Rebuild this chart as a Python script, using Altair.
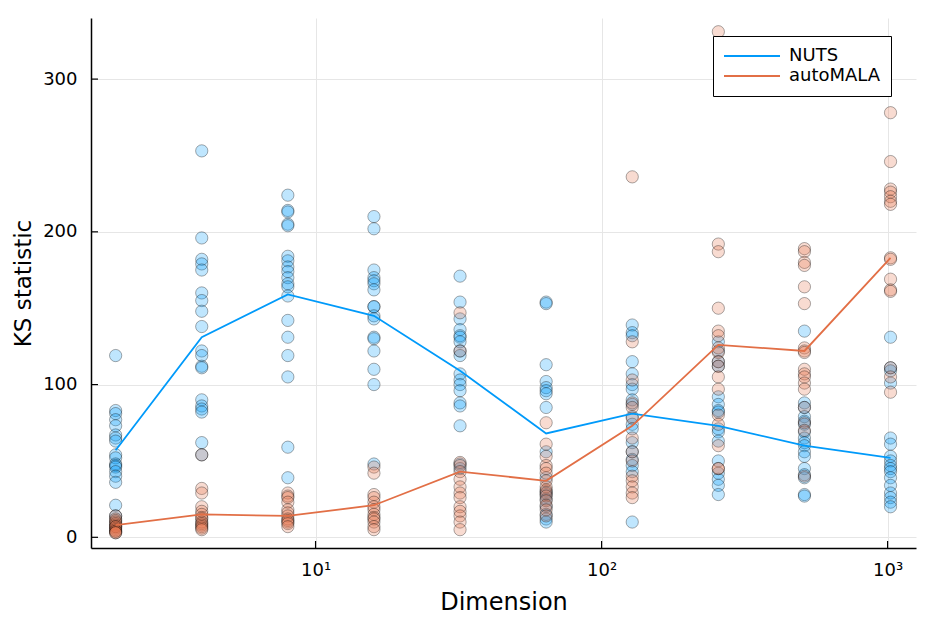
import altair as alt
import pandas as pd

# ---- data ----
dims = [2, 4, 8, 16, 32, 64, 128, 256, 512, 1024]
methods = ["NUTS", "autoMALA"]
colors = ["#009AFA", "#E26F46"]

nuts_points = [
    [119, 83, 81, 77, 73, 67, 65, 63, 54, 52, 48, 47, 46, 43, 40, 36, 21, 14],
    [253, 196, 182, 179, 175, 160, 155, 148, 138, 122, 119, 112, 111, 90, 86, 84, 82, 62, 54],
    [224, 214, 213, 205, 204, 184, 181, 177, 174, 170, 166, 164, 158, 142, 131, 119, 105, 59, 39],
    [210, 202, 175, 170, 168, 166, 162, 151, 151, 145, 143, 131, 130, 122, 110, 100, 48],
    [171, 154, 143, 136, 132, 131, 128, 122, 119, 107, 103, 100, 96, 88, 86, 73, 48, 45],
    [154, 153, 113, 102, 98, 96, 94, 85, 56, 39, 30, 28, 25, 20, 15, 12, 10],
    [139, 134, 132, 115, 107, 100, 97, 90, 87, 79, 74, 71, 62, 56, 51, 47, 43, 10],
    [128, 122, 115, 112, 92, 87, 83, 82, 71, 69, 63, 50, 42, 38, 34, 28],
    [135, 88, 85, 79, 76, 74, 69, 65, 62, 60, 56, 53, 45, 41, 39, 28, 27],
    [131, 111, 109, 101, 65, 61, 53, 50, 47, 45, 43, 39, 34, 29, 26, 23, 20],
]
mala_points = [
    [14, 12, 11, 10, 9, 8, 7, 7, 6, 5, 4, 4, 3, 3],
    [54, 32, 29, 20, 17, 15, 13, 12, 10, 9, 8, 7, 6, 5],
    [29, 27, 26, 23, 18, 16, 14, 12, 11, 10, 9, 7],
    [46, 42, 28, 26, 23, 20, 18, 15, 13, 12, 10, 7, 5],
    [147, 122, 49, 47, 43, 38, 33, 29, 26, 20, 17, 14, 10, 5],
    [75, 61, 53, 47, 45, 42, 37, 33, 31, 29, 27, 24, 21, 18, 14],
    [236, 128, 103, 88, 85, 78, 65, 56, 50, 40, 37, 33, 29, 26],
    [331, 192, 187, 150, 135, 132, 124, 121, 115, 112, 105, 97, 80, 74, 60, 45, 45],
    [189, 187, 180, 178, 164, 153, 124, 122, 121, 110, 107, 105, 101, 97, 85, 75, 70, 40],
    [278, 246, 228, 226, 223, 220, 218, 183, 182, 169, 162, 161, 111, 105, 95],
]
nuts_line = [57, 131, 159, 145, 109, 68, 81, 73, 60, 52]
mala_line = [8, 15, 14, 21, 43, 37, 73, 126, 122, 183]

x_ticks = [10, 100, 1000]
x_tick_labels = ["10¹", "10²", "10³"]
y_ticks = [0, 100, 200, 300]

# ---- tables ----
pts_rows = []
for m, series in zip(methods, [nuts_points, mala_points]):
    for d, vals in zip(dims, series):
        for v in vals:
            pts_rows.append({"dim": d, "ks": v, "method": m})
pts = pd.DataFrame(pts_rows)

line_rows = []
for m, series in zip(methods, [nuts_line, mala_line]):
    for d, v in zip(dims, series):
        line_rows.append({"dim": d, "ks": v, "method": m})
lines = pd.DataFrame(line_rows)

xtick_df = pd.DataFrame({"dim": x_ticks})
ytick_df = pd.DataFrame({"ks": y_ticks})

W, H = 825, 530
FONT = "DejaVu Sans"

label_expr = " : ".join(
    f"datum.value == {v} ? '{l}'" for v, l in zip(x_ticks, x_tick_labels)
) + " : ''"

xscale = alt.Scale(type="log", domain=[1.64, 1257], nice=False)
yscale = alt.Scale(domain=[-7, 340], nice=False, zero=False)

xaxis = alt.Axis(values=x_ticks, labelExpr=label_expr, title="Dimension",
                 ticks=False, tickSize=0, labelPadding=13, titlePadding=11,
                 grid=True, domain=True)
yaxis = alt.Axis(values=y_ticks, title="KS statistic", ticks=False, tickSize=0,
                 labelPadding=14, titlePadding=7, titleFontSize=23,
                 grid=True, domain=True)

point_scale = alt.Scale(domain=methods, range=colors)
line_scale = alt.Scale(domain=methods, range=colors)

points = alt.Chart(pts).mark_circle(
    size=150, fillOpacity=0.25, stroke="black", strokeOpacity=0.33, strokeWidth=1
).encode(
    x=alt.X("dim:Q", scale=xscale, axis=xaxis),
    y=alt.Y("ks:Q", scale=yscale, axis=yaxis),
    fill=alt.Fill("method:N", scale=point_scale, legend=None),
)

line = alt.Chart(lines).mark_line(strokeWidth=1.8).encode(
    x=alt.X("dim:Q", scale=xscale),
    y=alt.Y("ks:Q", scale=yscale),
    stroke=alt.Stroke(
        "method:N", scale=line_scale,
        legend=alt.Legend(
            title=None, orient="none", legendX=622, legendY=18,
            fillColor="white", strokeColor="black", padding=10,
            symbolType="stroke", symbolSize=3136, symbolStrokeWidth=2,
            clipHeight=20, labelOffset=8, labelFontSize=18, labelFont=FONT,
            labelColor="black", rowPadding=0,
        ),
    ),
)

xticks = alt.Chart(xtick_df).mark_rule(color="black", strokeWidth=1.2).encode(
    x=alt.X("dim:Q", scale=xscale), y=alt.value(H), y2=alt.value(H - 7)
)
yticks = alt.Chart(ytick_df).mark_rule(color="black", strokeWidth=1.2).encode(
    y=alt.Y("ks:Q", scale=yscale), x=alt.value(0), x2=alt.value(7)
)

chart = alt.layer(points, line, xticks, yticks).resolve_scale(
    fill="independent", stroke="independent"
).properties(
    width=W, height=H,
    autosize=alt.AutoSizeParams(type="none"),
    padding={"left": 83, "top": 10, "right": 5, "bottom": 66},
).configure_view(stroke=None).configure_axis(
    labelFont=FONT, titleFont=FONT, labelFontSize=18, titleFontSize=24,
    titleFontWeight="normal", labelColor="black", titleColor="black",
    domainColor="black", domainWidth=1.5, gridColor="#e6e6e6", gridWidth=1,
)

chart.save("out.html", embed_options={"renderer": "svg", "actions": False})
